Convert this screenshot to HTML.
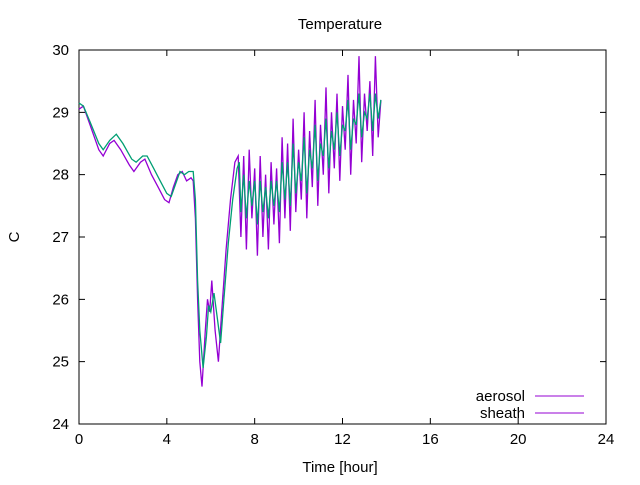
<!DOCTYPE html>
<html><head><meta charset="utf-8"><style>
body{margin:0;background:#fff}
text{font-family:"Liberation Sans",sans-serif;font-size:15px;fill:#000}
</style></head><body>
<svg id="chart" width="640" height="480" xmlns="http://www.w3.org/2000/svg">
<text x="340" y="29" text-anchor="middle">Temperature</text>
<text x="340" y="472" text-anchor="middle">Time [hour]</text>
<text x="19" y="237" text-anchor="middle" transform="rotate(-90 19 237)">C</text>
<rect x="79" y="50" width="527" height="374" fill="none" stroke="#000" stroke-width="1"/>
<g id="ticks"></g>
<g id="series"></g>
<g>
<text x="525" y="401" text-anchor="end">aerosol</text>
<line x1="535" y1="396" x2="584" y2="396" stroke="#9400d3"/>
<text x="525" y="418" text-anchor="end">sheath</text>
<line x1="535" y1="413" x2="584" y2="413" stroke="#9400d3"/>
</g>
</svg>
<script>
const xTicks=[0,4,8,12,16,20,24];
const yTicks=[24,25,26,27,28,29,30];
const aerosolEarly=[[0,29.05],[0.2,29.1],[0.5,28.8],[0.9,28.4],[1.1,28.3],[1.4,28.5],[1.6,28.55],[1.9,28.4],[2.3,28.15],[2.5,28.05],[2.8,28.2],[3.0,28.25],[3.3,28.0],[3.6,27.8],[3.9,27.6],[4.1,27.55],[4.3,27.8],[4.5,28.0],[4.7,28.05],[4.9,27.9],[5.1,27.95],[5.2,27.9],[5.3,27.3],[5.4,26.0],[5.5,25.0],[5.6,24.6],[5.75,25.5],[5.85,26.0],[5.95,25.8],[6.05,26.3],[6.2,25.5],[6.35,25.0],[6.5,25.8],[6.7,26.8],[6.9,27.6],[7.1,28.2],[7.25,28.3]];
const aerosolOsc=[27.0,28.3,26.8,28.4,27.3,28.1,26.7,28.3,27.0,28.0,26.8,28.2,27.2,28.1,26.9,28.6,27.3,28.5,27.1,28.9,27.4,28.4,27.6,29.0,27.3,28.7,27.8,29.2,27.5,28.8,28.0,29.4,27.7,29.0,28.1,29.3,27.9,29.1,28.4,29.6,28.0,29.2,28.5,29.9,28.2,29.3,28.7,29.5,28.3,29.9,28.6,29.2];
const sheathEarly=[[0,29.15],[0.2,29.1],[0.5,28.85],[0.9,28.5],[1.1,28.4],[1.4,28.55],[1.7,28.65],[2.0,28.5],[2.4,28.25],[2.6,28.2],[2.9,28.3],[3.1,28.3],[3.4,28.1],[3.7,27.9],[4.0,27.7],[4.2,27.65],[4.4,27.85],[4.6,28.05],[4.8,28.0],[5.0,28.05],[5.2,28.05],[5.3,27.6],[5.4,26.3],[5.5,25.5],[5.65,24.9],[5.8,25.4],[5.9,25.9],[6.0,25.8],[6.15,26.1],[6.3,25.7],[6.45,25.3],[6.6,26.0],[6.8,26.9],[7.0,27.6],[7.2,28.1],[7.3,28.2]];
const sheathOsc=[27.4,28.0,27.3,27.9,27.5,27.9,27.2,27.9,27.4,27.8,27.3,27.9,27.5,27.9,27.4,28.2,27.6,28.2,27.5,28.5,27.7,28.2,27.9,28.6,27.7,28.4,28.1,28.8,27.9,28.5,28.3,28.9,28.1,28.7,28.4,29.0,28.3,28.8,28.7,29.2,28.4,28.9,28.8,29.3,28.6,29.0,28.9,29.3,28.7,29.3,28.9,29.2];
const oscStart=7.375, oscStep=0.125;
const X0=79,X1=606,Y0=424,Y1=50;
const xS=v=>X0+(v-0)/(24-0)*(X1-X0);
const yS=v=>Y0-(v-24)/(30-24)*(Y0-Y1);
const NS="http://www.w3.org/2000/svg";
const tg=document.getElementById('ticks');
function mk(tag,attrs,parent){const e=document.createElementNS(NS,tag);for(const k in attrs)e.setAttribute(k,attrs[k]);parent.appendChild(e);return e;}
xTicks.forEach(t=>{const x=xS(t);
 const l=mk('path',{d:`M${x},${Y0}v-6M${x},${Y1}v6`,stroke:'#000',fill:'none'},tg);
 
 
 const tx=mk('text',{x:x,y:Y0+20,'text-anchor':'middle'},tg);tx.textContent=t;
 
 
});
yTicks.forEach(t=>{const y=yS(t);
 const l=mk('path',{d:`M${X0},${y}h6M${X1},${y}h-6`,stroke:'#000',fill:'none'},tg);
 
 
 const tx=mk('text',{x:X0-10,y:y+5,'text-anchor':'end'},tg);tx.textContent=t;
 
 
});
function build(early,osc){const pts=early.slice();osc.forEach((v,i)=>pts.push([oscStart+i*oscStep,v]));return pts;}
const sg=document.getElementById('series');
function draw(pts,color,name){
 const d=pts.map((p,i)=>(i?'L':'M')+xS(p[0]).toFixed(1)+','+yS(p[1]).toFixed(1)).join('');
 const p=mk('path',{d:d,stroke:color,fill:'none','stroke-width':1.3},sg);
 
 
}
draw(build(aerosolEarly,aerosolOsc),'#9400d3','aerosol-line');
draw(build(sheathEarly,sheathOsc),'#009e73','sheath-line');
</script>
</body></html>
